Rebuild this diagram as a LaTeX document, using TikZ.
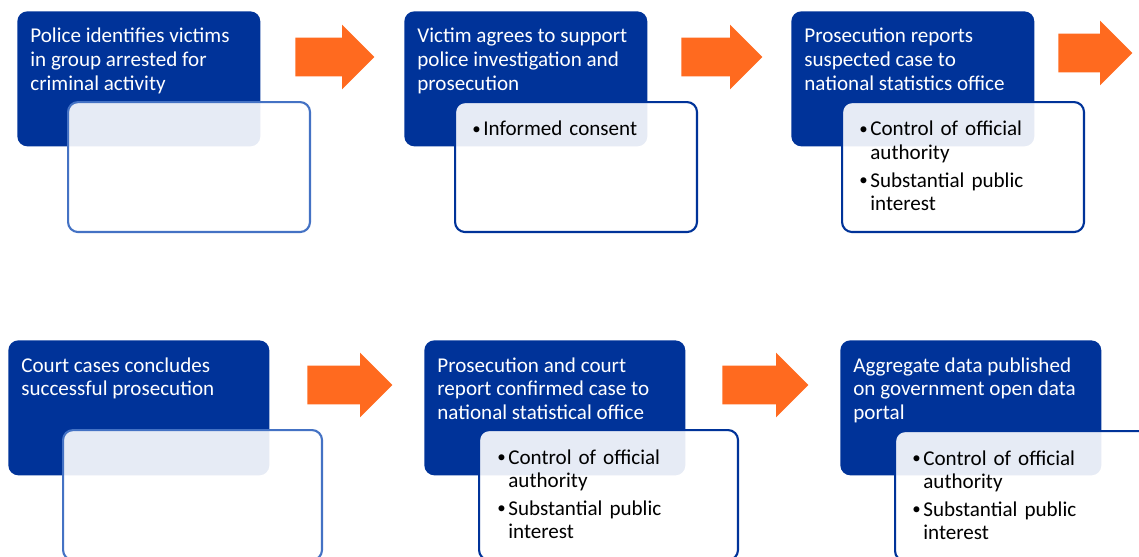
\documentclass[tikz,border=0pt]{standalone}
\usepackage{fontspec}
\setmainfont{Carlito}
\usetikzlibrary{shapes.arrows,positioning}

\definecolor{darkblue}{HTML}{003399}
\definecolor{paleblue}{HTML}{4472C4}
\definecolor{floworange}{HTML}{FF6A1F}

\newcommand{\bpoint}[1]{\noindent\makebox[0.22cm][l]{\raisebox{0.15ex}{\scalebox{0.8}{\textbullet}}}\parbox[t]{4.2cm}{\raggedright #1}}

\tikzset{
	stepbox/.style={anchor=north west, fill=darkblue, rounded corners=0.2cm, inner sep=0pt, minimum height=2.7cm},
	rowone/.style={minimum width=4.86cm},
	rowtwo/.style={minimum width=5.22cm},
	notebox/.style={anchor=north west, draw=darkblue, line width=1.2pt, fill=white, fill opacity=0.9, rounded corners=0.2cm, inner sep=0pt, minimum height=2.6cm},
	emptynote/.style={notebox, draw=paleblue},
	steptext/.style={inner sep=0pt, text=white, align=left, font=\fontsize{12}{13.4}\selectfont},
	notetext/.style={inner sep=0pt, text=black, text width=4.5cm, align=left, font=\fontsize{12}{13.4}\selectfont},
	flowarrow/.style={single arrow, fill=floworange, anchor=west, inner xsep=0pt, inner ysep=0.38cm, single arrow head extend=0.26cm}
}

\begin{document}
\begin{tikzpicture}[x=0.02cm,y=-0.02cm]
	\clip (0,0) rectangle (1139,556);
	%\draw[help lines] (0,0) grid (1139,556);

	% first row
	\node[stepbox, rowone] (d1) at (17,11) {};
	\node[steptext, below right=0.34cm and 0.26cm of d1.north west] (t1) {Police identifies victims\\in group arrested for\\criminal activity};
	\node[emptynote, minimum width=4.84cm] (w1) at (67,101) {};
	\node[flowarrow, minimum height=1.58cm] (a1) at (295,57) {};

	\node[stepbox, rowone] (d2) at (404,11) {};
	\node[steptext, below right=0.34cm and 0.26cm of d2.north west] (t2) {Victim agrees to support\\police investigation and\\prosecution};
	\node[notebox, minimum width=4.84cm] (w2) at (454,101) {};
	\node[notetext, below right=0.4cm and 0.36cm of w2.north west] (n2) {\bpoint{Informed consent}};
	\node[flowarrow, minimum height=1.62cm] (a2) at (681,57) {};

	\node[stepbox, rowone] (d3) at (791,11) {};
	\node[steptext, below right=0.34cm and 0.26cm of d3.north west] (t3) {Prosecution reports\\suspected case to\\national statistics office};
	\node[notebox, minimum width=4.84cm] (w3) at (841,101) {};
	\node[notetext, below right=0.4cm and 0.36cm of w3.north west] (n3) {\bpoint{Control of official\\authority}\\[0.16cm]\bpoint{Substantial public\\interest}};
	\node[flowarrow, minimum height=1.48cm] (a3) at (1058,53) {};

	% second row
	\node[stepbox, rowtwo] (d4) at (8,340) {};
	\node[steptext, below right=0.34cm and 0.26cm of d4.north west] (t4) {Court cases concludes\\successful prosecution};
	\node[emptynote, minimum width=5.18cm] (w4) at (62,429) {};
	\node[flowarrow, minimum height=1.7cm] (a4) at (307,385) {};

	\node[stepbox, rowtwo] (d5) at (424,340) {};
	\node[steptext, below right=0.34cm and 0.26cm of d5.north west] (t5) {Prosecution and court\\report confirmed case to\\national statistical office};
	\node[notebox, minimum width=5.18cm] (w5) at (478,429) {};
	\node[notetext, below right=0.4cm and 0.38cm of w5.north west] (n5) {\bpoint{Control of official\\authority}\\[0.16cm]\bpoint{Substantial public\\interest}};
	\node[flowarrow, minimum height=1.72cm] (a5) at (722,385) {};

	\node[stepbox, rowtwo] (d6) at (840,340) {};
	\node[steptext, below right=0.34cm and 0.26cm of d6.north west] (t6) {Aggregate data published\\on government open data\\portal};
	\node[notebox, minimum width=5.18cm] (w6) at (894,430) {};
	\node[notetext, below right=0.4cm and 0.36cm of w6.north west] (n6) {\bpoint{Control of official\\authority}\\[0.16cm]\bpoint{Substantial public\\interest}};
\end{tikzpicture}
\end{document}
